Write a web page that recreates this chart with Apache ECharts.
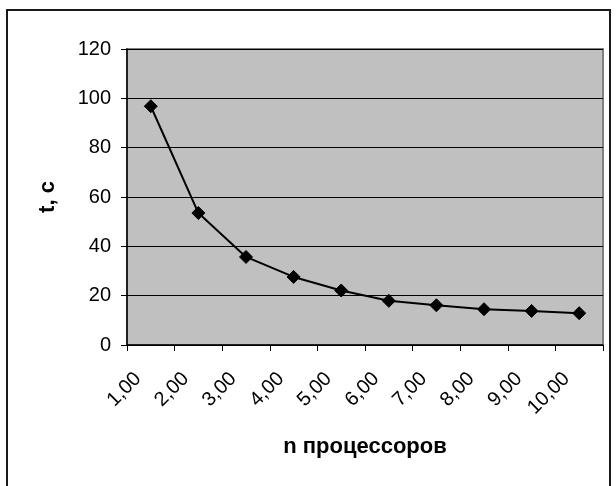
<!DOCTYPE html>
<html>
<head>
<meta charset="utf-8">
<script src="https://cdn.jsdelivr.net/npm/echarts@6/dist/echarts.min.js"></script>
<style>
  html, body { margin: 0; padding: 0; background: #fff; }
  #chart { width: 616px; height: 486px; }
</style>
</head>
<body>
<div id="chart"></div>
<script>
// Processor counts (category labels) and measured run time in seconds
const processors = ['1,00', '2,00', '3,00', '4,00', '5,00', '6,00', '7,00', '8,00', '9,00', '10,00'];
const timeSec = [96.8, 53.5, 35.7, 27.6, 22.1, 17.9, 16.1, 14.5, 13.8, 12.9];

const yAxisTitle = 't, с';
const xAxisTitle = 'n процессоров';

const FONT = '"Liberation Sans", Arial, sans-serif';

const chart = echarts.init(document.getElementById('chart'), null, { renderer: 'canvas' });

chart.setOption({
  animation: false,
  backgroundColor: '#ffffff',
  graphic: [
    {
      type: 'rect',
      shape: { x: 7, y: 10, width: 603, height: 520 },
      style: { fill: 'none', stroke: '#1a1a1a', lineWidth: 2 },
      z: 0
    }
  ],
  grid: {
    left: 127,
    right: 13,
    top: 49,
    bottom: 141,
    show: true,
    backgroundColor: '#c0c0c0',
    borderColor: '#808080',
    borderWidth: 2
  },
  xAxis: {
    type: 'category',
    data: processors,
    boundaryGap: true,
    name: xAxisTitle,
    nameLocation: 'middle',
    nameGap: 91,
    nameTextStyle: { fontFamily: FONT, fontSize: 22, fontWeight: 'bold', color: '#000' },
    axisLine: { show: true, lineStyle: { color: '#000', width: 1.5 } },
    axisTick: { show: true, alignWithLabel: false, length: 6, lineStyle: { color: '#000', width: 1 } },
    axisLabel: {
      rotate: 45,
      margin: 18,
      padding: [0, 18, 0, 0],
      fontFamily: FONT,
      fontSize: 20,
      color: '#000',
      interval: 0
    },
    splitLine: { show: false }
  },
  yAxis: {
    type: 'value',
    min: 0,
    max: 120,
    interval: 20,
    name: yAxisTitle,
    nameLocation: 'middle',
    nameGap: 68,
    nameRotate: 90,
    nameTextStyle: { fontFamily: FONT, fontSize: 22, fontWeight: 'bold', color: '#000' },
    axisLine: { show: true, lineStyle: { color: '#000', width: 1.5 } },
    axisTick: { show: true, length: 6, lineStyle: { color: '#000', width: 1 } },
    axisLabel: { margin: 16, fontFamily: FONT, fontSize: 20, color: '#000' },
    splitLine: { show: true, lineStyle: { color: '#000', width: 1 } }
  },
  series: [
    {
      type: 'line',
      data: timeSec,
      symbol: 'diamond',
      symbolSize: 13,
      showAllSymbol: true,
      lineStyle: { color: '#000', width: 2 },
      itemStyle: { color: '#000', borderColor: '#000' },
      z: 5
    }
  ]
});
</script>
</body>
</html>
